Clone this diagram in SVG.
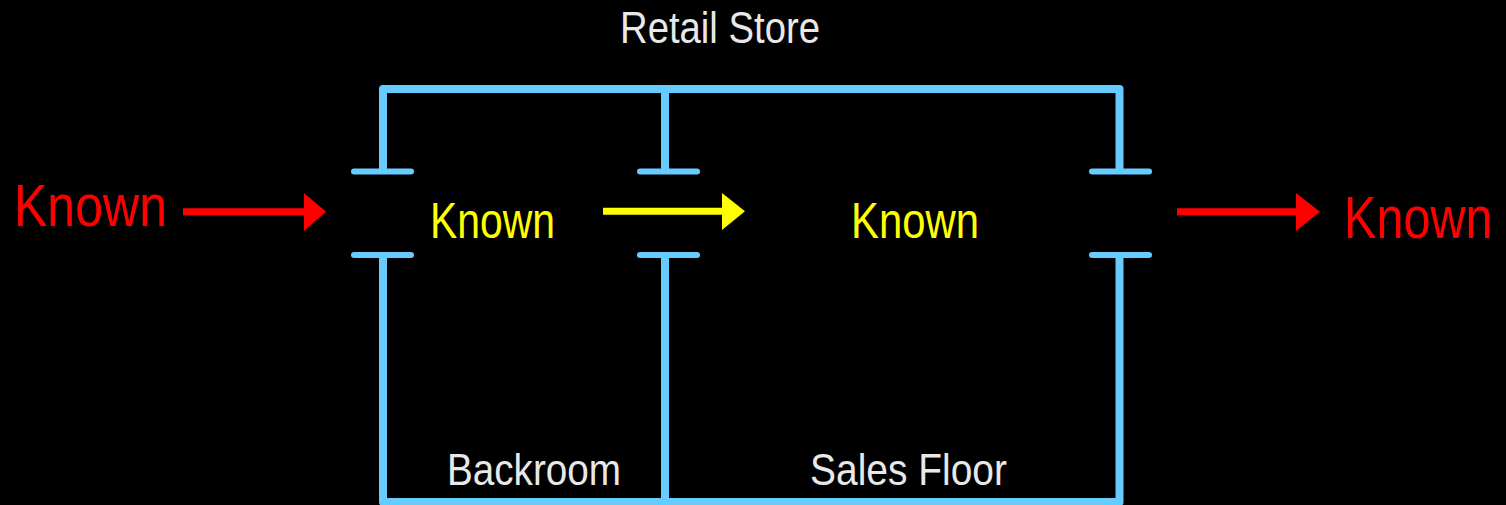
<svg xmlns="http://www.w3.org/2000/svg" width="1506" height="505" viewBox="0 0 1506 505">
<style>
.wall{fill:none;stroke:#66CCFF;stroke-width:8;stroke-linejoin:round}
.tick{stroke:#66CCFF;stroke-width:6;stroke-linecap:round}
.lbl{font-family:"Liberation Sans",Arial,sans-serif;fill:#E8E8E8;font-size:44px}
.ky{font-family:"Liberation Sans",Arial,sans-serif;fill:#FFFF00;font-size:50px}
.kr{font-family:"Liberation Sans",Arial,sans-serif;fill:#FF0000;font-size:60px}
</style>
<rect width="1506" height="505" fill="#000"/>
<g id="store">
<path class="wall" d="M383,171.5 V89 H1119.5 V171.5 M665,89 V171.5 M383,255 V502 H1119.5 V255 M665,255 V502"/>
<line class="tick" x1="354" y1="171.5" x2="411" y2="171.5"/>
<line class="tick" x1="354" y1="255" x2="411" y2="255"/>
<line class="tick" x1="640" y1="171.5" x2="697" y2="171.5"/>
<line class="tick" x1="640" y1="255" x2="697" y2="255"/>
<line class="tick" x1="1092" y1="171.5" x2="1149" y2="171.5"/>
<line class="tick" x1="1092" y1="255" x2="1149" y2="255"/>
<text class="lbl" x="620" y="43" textLength="200" lengthAdjust="spacingAndGlyphs">Retail Store</text>
</g>
<g id="backroom">
<text class="lbl" x="447" y="485" textLength="174" lengthAdjust="spacingAndGlyphs">Backroom</text>
<text class="ky" x="430" y="238" textLength="125" lengthAdjust="spacingAndGlyphs">Known</text>
</g>
<g id="salesfloor">
<text class="lbl" x="810" y="485" textLength="197" lengthAdjust="spacingAndGlyphs">Sales Floor</text>
<text class="ky" x="851" y="238" textLength="128" lengthAdjust="spacingAndGlyphs">Known</text>
</g>
<g id="inbound">
<text class="kr" x="14" y="226" textLength="153" lengthAdjust="spacingAndGlyphs">Known</text>
</g>
<g id="outbound">
<text class="kr" transform="translate(1344,238) scale(0.81,1)">Known</text>
</g>
<g id="connectors">
<line x1="183" y1="211.7" x2="306" y2="211.7" stroke="#FF0000" stroke-width="7"/>
<polygon points="304,193 326,211.7 304,231" fill="#FF0000"/>
<line x1="603" y1="211.3" x2="724" y2="211.3" stroke="#FFFF00" stroke-width="7"/>
<polygon points="722,193 745,211.3 722,230" fill="#FFFF00"/>
<line x1="1177" y1="211.7" x2="1298" y2="211.7" stroke="#FF0000" stroke-width="7"/>
<polygon points="1296,193 1320,211.7 1296,231" fill="#FF0000"/>
</g>
</svg>
